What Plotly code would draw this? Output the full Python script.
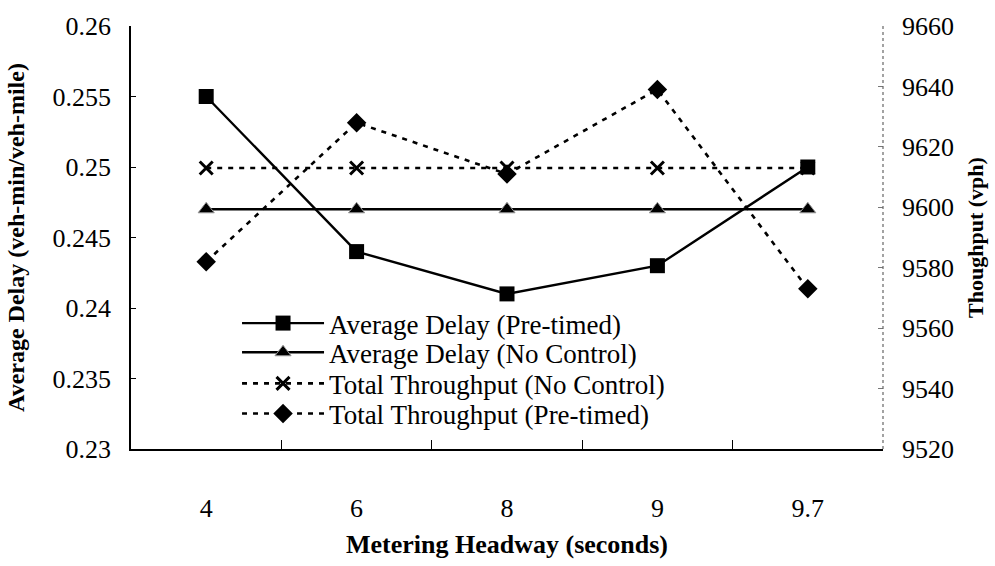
import plotly.graph_objects as go

categories = ["4", "6", "8", "9", "9.7"]
delay_pretimed = [0.255, 0.244, 0.241, 0.243, 0.250]
delay_nocontrol = [0.247, 0.247, 0.247, 0.247, 0.247]
thru_nocontrol = [9613, 9613, 9613, 9613, 9613]
thru_pretimed = [9582, 9628, 9611, 9639, 9573]

left_ticks = [0.23, 0.235, 0.24, 0.245, 0.25, 0.255, 0.26]
left_ticktext = ["0.23", "0.235", "0.24", "0.245", "0.25", "0.255", "0.26"]
right_ticks = [9520, 9540, 9560, 9580, 9600, 9620, 9640, 9660]

FONT = "Liberation Serif"
dash = "5px,6px"

fig = go.Figure()
fig.add_trace(go.Scatter(x=categories, y=delay_pretimed, name="Average Delay (Pre-timed)",
                         mode="lines+markers", line=dict(color="black", width=2.4),
                         marker=dict(symbol="square", size=15, color="black"),
                         legend="legend"))
fig.add_trace(go.Scatter(x=categories, y=delay_nocontrol, name="Average Delay (No Control)",
                         mode="lines+markers", line=dict(color="black", width=2.4),
                         marker=dict(symbol="triangle-up", size=14, color="black",
                                     line=dict(color="#999999", width=1)),
                         legend="legend2"))
fig.add_trace(go.Scatter(x=categories, y=thru_nocontrol, name="Total Throughput (No Control)",
                         mode="lines+markers", yaxis="y2",
                         line=dict(color="black", width=2.6, dash=dash),
                         marker=dict(symbol="x-thin", size=13, color="black",
                                     line=dict(color="black", width=3)),
                         legend="legend3"))
fig.add_trace(go.Scatter(x=categories, y=thru_pretimed, name="Total Throughput (Pre-timed)",
                         mode="lines+markers", yaxis="y2",
                         line=dict(color="black", width=2.6, dash=dash),
                         marker=dict(symbol="diamond", size=15, color="black"),
                         legend="legend4"))

def leg(y):
    return dict(x=0.141, y=y, xanchor="left", yanchor="middle",
                bgcolor="rgba(0,0,0,0)", font=dict(family=FONT, size=27),
                itemwidth=82)

fig.update_layout(
    width=995, height=566,
    margin=dict(l=131, r=111, t=19, b=112),
    paper_bgcolor="white", plot_bgcolor="white",
    font=dict(family=FONT, size=26, color="black"),
    showlegend=True,
    legend=leg(0.2966), legend2=leg(0.2276), legend3=leg(0.154), legend4=leg(0.0828),
    xaxis=dict(type="category", range=[-0.5, 4.5], showline=True, linecolor="black",
               linewidth=1.5, ticks="inside", ticklen=9, tickcolor="black",
               tickson="boundaries", showgrid=False, zeroline=False,
               tickfont=dict(family=FONT, size=26), ticklabelstandoff=35,
               title=dict(text="<b>Metering Headway (seconds)</b>",
                          font=dict(family=FONT, size=26), standoff=13)),
    yaxis=dict(range=[0.23, 0.26], tickvals=left_ticks, ticktext=left_ticktext,
               showline=True, linecolor="black", linewidth=1.5, ticks="inside",
               ticklen=5, tickcolor="black", showgrid=False, zeroline=False,
               tickfont=dict(family=FONT, size=26), ticklabelstandoff=13,
               title=dict(text="<b>Average Delay (veh-min/veh-mile)</b>",
                          font=dict(family=FONT, size=24), standoff=21)),
    yaxis2=dict(range=[9520, 9660], tickvals=right_ticks, overlaying="y", side="right",
                showline=False, ticks="inside", ticklen=5, tickcolor="#777777",
                showgrid=False, zeroline=False,
                tickfont=dict(family=FONT, size=26), ticklabelstandoff=18,
                title=dict(text="<b>Thoughput (vph)</b>",
                           font=dict(family=FONT, size=22), standoff=14)),
)
fig.add_shape(type="line", xref="paper", yref="paper", x0=1, x1=1, y0=0, y1=1,
              line=dict(color="#666666", width=1.2, dash="3px,3px"))

fig.write_html("out.html")
